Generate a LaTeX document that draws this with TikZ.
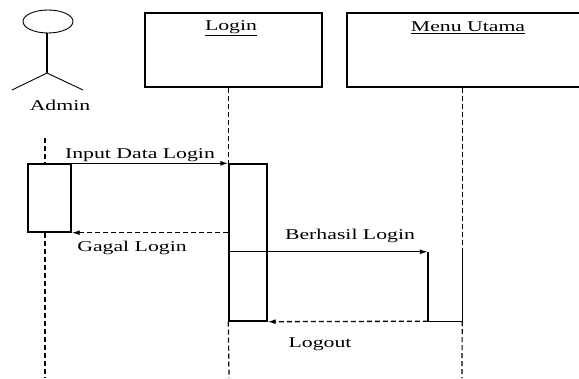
\documentclass[tikz,border=0pt]{standalone}
\usepackage{fontspec}
\setmainfont{Liberation Serif}
\usepackage{graphicx}
\usepackage{tikz}
\usetikzlibrary{
  arrows.meta,
  positioning,
  calc
}
\newcommand{\wlbl}[1]{\scalebox{1.45}[1]{#1}}
\tikzset{
  objbox/.style={draw, line width=1.4pt, inner sep=0pt},
  actbox/.style={draw, line width=1.4pt, inner sep=0pt},
  lifeline/.style={line width=1.2pt, dash pattern=on 5pt off 3pt},
  msg/.style={line width=1.3pt, -{Latex[length=8pt,width=5pt]}},
  reply/.style={line width=1.3pt, dash pattern=on 5pt off 3pt, -{Latex[length=8pt,width=5pt]}},
  txt/.style={font=\fontsize{15}{17}\selectfont, inner sep=0pt}
}

\begin{document}
\begin{tikzpicture}[x=1pt,y=-1pt]
    \useasboundingbox (0,0) rectangle (579,378);
    % actor
    \draw[line width=0.9pt] (48,21.5) ellipse [x radius=25pt, y radius=11.5pt];
    \coordinate (neck) at (47,33);
    \coordinate (hip) at (47,73);
    \coordinate (lfoot) at (12,90);
    \coordinate (rfoot) at (83,90);
    \draw[line width=1.2pt] (neck) -- (hip);
    \draw[line width=0.9pt] (lfoot) -- (hip) -- (rfoot);
    \node[txt] (admin) at (60,105) {\wlbl{Admin}};
    % objects
    \node[objbox, minimum width=177, minimum height=74] (login) at (233.5,50) {};
    \node[objbox, minimum width=240, minimum height=74] (menu) at (467,50) {};
    \node[txt] (logintxt) at (231,28) {\wlbl{\underline{Login}}};
    \node[txt] (menutxt) at (468,28) {\wlbl{\underline{Menu Utama}}};
    % activations
    \node[actbox, minimum width=43, minimum height=68] (adminact) at (49.5,198) {};
    \node[actbox, minimum width=38, minimum height=157] (loginact) at (248,242.5) {};
    \node[inner sep=0pt, minimum width=34, minimum height=69] (menuact) at (445,286.5) {};
    \draw[line width=1.4pt] (menuact.north west) -- (menuact.south west)
      -- (menuact.south east) -- (menuact.north east);
    % lifelines
    \coordinate (adminTop) at (45,138);
    \coordinate (adminEnd) at (45,378);
    \coordinate (loginEnd) at (229,378);
    \coordinate (menuEnd) at (462,378);
    \draw[lifeline] (adminTop) -- (adminTop |- adminact.north);
    \draw[lifeline] (adminTop |- adminact.south) -- (adminEnd);
    \draw[lifeline] (login.south -| loginact.west) -- (loginact.north west);
    \draw[lifeline] (loginact.south west) -- (loginEnd);
    \draw[lifeline] (menu.south -| menuact.east) -- (menuact.north east);
    \draw[lifeline] (menuact.south east) -- (menuEnd);
    % messages
    \draw[msg] (adminact.north east) -- (loginact.north west);
    \node[txt] (inputlbl) at (140,155) {\wlbl{Input Data Login}};
    \draw[reply] (loginact.west |- adminact.south) -- (adminact.south east);
    \node[txt] (gagallbl) at (132,248) {\wlbl{Gagal Login}};
    \draw[msg] (loginact.west |- menuact.north) -- (menuact.north west);
    \node[txt] (berhasillbl) at (350,236) {\wlbl{Berhasil Login}};
    \draw[reply] (menuact.south west) -- (loginact.south east);
    \node[txt] (logoutlbl) at (320,344) {\wlbl{Logout}};
\end{tikzpicture}
\end{document}
